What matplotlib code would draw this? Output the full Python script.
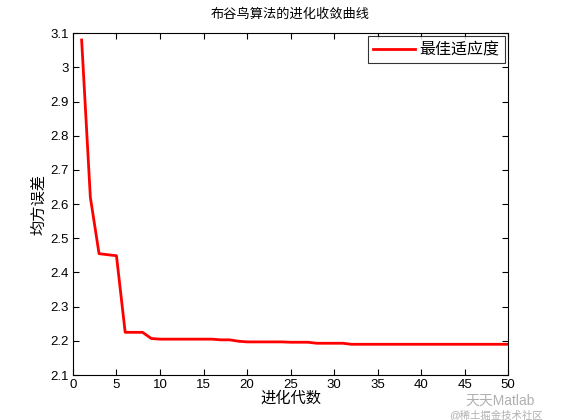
import matplotlib
matplotlib.use('Agg')
import matplotlib.pyplot as plt
import numpy as np

plt.rcParams['font.family'] = ['Liberation Sans', 'Noto Sans CJK SC', 'DejaVu Sans']

# Data
generations = np.arange(1, 51)
best_fitness = [3.08, 2.62, 2.455, 2.452, 2.449, 2.225, 2.225, 2.225, 2.207, 2.205,
                2.205, 2.205, 2.205, 2.205, 2.205, 2.205, 2.203, 2.203, 2.199, 2.197,
                2.197, 2.197, 2.197, 2.197, 2.196, 2.196, 2.196, 2.193, 2.193, 2.193,
                2.193, 2.19, 2.19, 2.19, 2.19, 2.19, 2.19, 2.19, 2.19, 2.19,
                2.19, 2.19, 2.19, 2.19, 2.19, 2.19, 2.19, 2.19, 2.19, 2.19]

x_ticks = np.arange(0, 51, 5)
y_ticks = np.round(np.arange(2.1, 3.11, 0.1), 1)

fig = plt.figure(figsize=(5.61, 4.2), dpi=100)
ax = fig.add_axes([0.13, 0.107, 0.776, 0.814])
ax.plot(generations, best_fitness, color='red', linewidth=2, label='最佳适应度')

ax.set_xlim(0, 50)
ax.set_ylim(2.1, 3.1)
ax.set_xticks(x_ticks)
ax.set_yticks(y_ticks)
ax.set_yticklabels([f'{v:g}' for v in y_ticks])
ax.tick_params(direction='in', top=True, right=True, labelsize=9.5, length=4, width=0.8, pad=3)
for s in ax.spines.values():
    s.set_linewidth(0.8)

ax.set_title('布谷鸟算法的进化收敛曲线', fontsize=9.5, pad=11)
ax.set_xlabel('进化代数', fontsize=11, labelpad=0)
ax.set_ylabel('均方误差', fontsize=11, labelpad=3)

leg = ax.legend(loc='upper right', fontsize=11.5, frameon=True, fancybox=False,
                edgecolor='black', handlelength=2.6, handletextpad=0.3,
                borderaxespad=0.2, borderpad=0.35)
leg.get_frame().set_linewidth(0.8)

# watermark
fig.text(0.83, 0.045, '天天Matlab', fontsize=10, color='#b0b0b0', ha='left', va='center')
fig.text(0.80, 0.012, '@稀土掘金技术社区', fontsize=7.5, color='#b0b0b0', ha='left', va='center')

fig.savefig('out.png', dpi=100)
